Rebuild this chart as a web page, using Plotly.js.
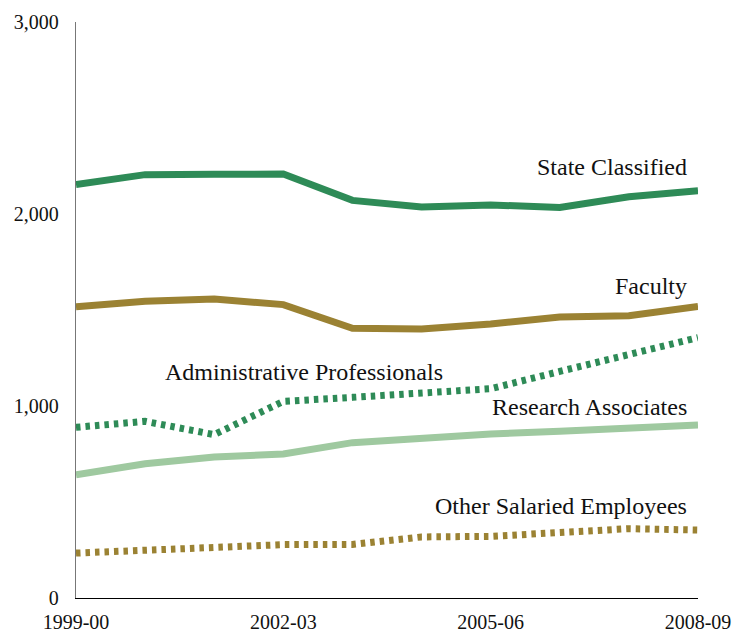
<!DOCTYPE html>
<html>
<head>
<meta charset="utf-8">
<script src="https://cdn.plot.ly/plotly-3.0.1.min.js"></script>
<style>html,body{margin:0;padding:0;background:#fff;}#chart{width:732px;height:634px;}</style>
</head>
<body>
<div id="chart"></div>
<script>
var years = ['1999-00','2000-01','2001-02','2002-03','2003-04','2004-05','2005-06','2006-07','2007-08','2008-09'];
var tickYears = ['1999-00','2002-03','2005-06','2008-09'];
var yTicks = [0, 1000, 2000, 3000];

var stateClassified = [2153, 2205, 2207, 2208, 2071, 2036, 2047, 2034, 2090, 2121];
var faculty = [1517, 1545, 1557, 1528, 1405, 1401, 1427, 1464, 1470, 1519];
var adminProfessionals = [889, 920, 851, 1024, 1045, 1064, 1090, 1180, 1267, 1356];
var researchAssociates = [642, 699, 734, 750, 809, 833, 854, 868, 885, 901];
var otherSalaried = [234, 246, 260, 278, 279, 318, 321, 339, 361, 354];

var GREEN = '#2e8b57', GOLD = '#9b8233', LIGHT = '#9fc9a0';
var FONT = "'Liberation Serif', 'Times New Roman', serif";

function line(name, y, color, dash) {
  return {x: years, y: y, name: name, type: 'scatter', mode: 'lines',
    line: {color: color, width: 7, dash: dash || 'solid', shape: 'linear'},
    hoverinfo: 'skip'};
}

var data = [
  line('Other Salaried Employees', otherSalaried, GOLD, '4.5px,5px'),
  line('Research Associates', researchAssociates, LIGHT),
  line('Administrative Professionals', adminProfessionals, GREEN, '4.5px,5px'),
  line('Faculty', faculty, GOLD),
  line('State Classified', stateClassified, GREEN)
];

function label(text, x, y, anchor) {
  return {text: text, xref: 'paper', yref: 'paper', x: x, y: y, xanchor: anchor, yanchor: 'middle',
    showarrow: false, font: {family: FONT, size: 24, color: '#111'}};
}

var layout = {
  width: 732, height: 634,
  margin: {l: 76, r: 34, t: 22, b: 36, pad: 0},
  paper_bgcolor: '#fff', plot_bgcolor: '#fff',
  showlegend: false,
  font: {family: FONT, size: 20, color: '#111'},
  xaxis: {
    type: 'category', range: [0, 9], tickmode: 'array', tickvals: tickYears, ticktext: tickYears,
    showgrid: false, zeroline: false, showline: true, linecolor: '#000', linewidth: 1.2,
    ticks: '', ticklabelstandoff: 6, tickfont: {family: FONT, size: 20, color: '#111'}
  },
  yaxis: {
    range: [0, 3000], tickmode: 'array', tickvals: yTicks, tickformat: ',d',
    showgrid: false, zeroline: false, showline: true, linecolor: '#777', linewidth: 1.2,
    ticks: '', ticklabelstandoff: 12, tickfont: {family: FONT, size: 20, color: '#111'}
  },
  annotations: [
    label('State Classified', 0.986, 0.749, 'right'),
    label('Faculty', 0.986, 0.541, 'right'),
    label('Administrative Professionals', 0.367, 0.393, 'center'),
    label('Research Associates', 0.985, 0.331, 'right'),
    label('Other Salaried Employees', 0.985, 0.160, 'right')
  ]
};

Plotly.newPlot('chart', data, layout, {displayModeBar: false, staticPlot: true});
</script>
</body>
</html>
